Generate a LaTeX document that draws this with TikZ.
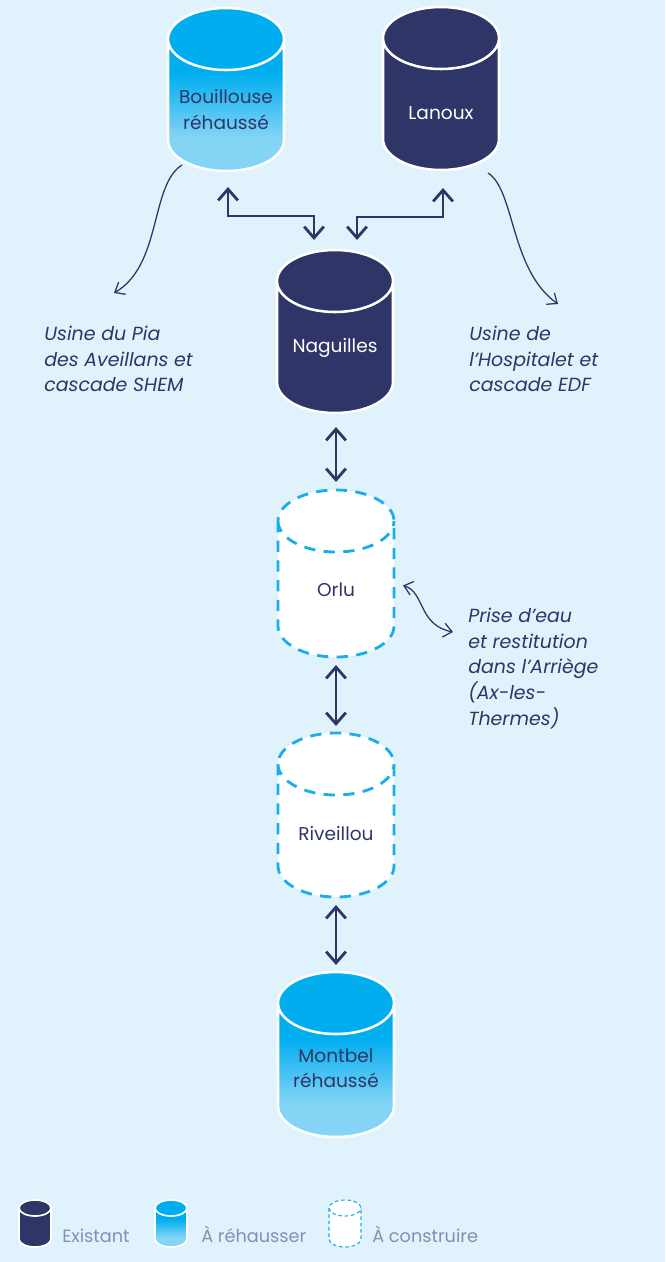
\documentclass[tikz,border=0pt]{standalone}
\usepackage{fontspec}
\setmainfont{Poppins}
\usetikzlibrary{arrows.meta}

\definecolor{bg}{HTML}{E0F2FB}
\definecolor{navy}{HTML}{2F3566}
\definecolor{tankcyan}{HTML}{00AEEF}
\definecolor{tanklight}{HTML}{84D4F6}
\definecolor{dashcyan}{HTML}{1AAEE8}
\definecolor{legendgray}{HTML}{8A8CB0}

\pgfdeclareverticalshading{tankfade}{100bp}{color(0bp)=(tanklight); color(35bp)=(tanklight); color(55bp)=(tankcyan); color(100bp)=(tankcyan)}

% one pixel of the drawing grid
\newcommand\pxu{0.025cm}

% #1 name, #2 style, #3 x, #4 top y, #5 x radius, #6 y radius, #7 body height
\newcommand\tank[7]{%
  \path[#2] (#3-#5,#4-#6) -- ++(0,-#7)
      arc[start angle=180,end angle=360,x radius=#5,y radius=#6] -- ++(0,#7)
      arc[start angle=0,end angle=180,x radius=#5,y radius=#6] -- cycle
    (#3-#5,#4-#6) arc[start angle=180,end angle=360,x radius=#5,y radius=#6];
  \node[tankbox, minimum width=2*#5*\pxu, minimum height=(2*#6+#7)*\pxu]
    (#1) at (#3,#4-#6-#7/2) {};
}

\tikzset{
  existing/.style={fill=navy, draw=white, line width=1.8pt},
  raised/.style={shade, shading=tankfade, draw=white, line width=1.8pt},
  planned/.style={fill=white, draw=dashcyan, line width=2pt, dash pattern=on 8pt off 6pt},
  tankbox/.style={inner sep=0pt, outer sep=0pt},
  tanklabel/.style={align=center, inner sep=0pt, font=\fontsize{13.2}{18}\selectfont},
  flow/.style={draw=navy, line width=2pt, >={Straight Barb[length=8pt,width=14pt]}},
  hint/.style={draw=navy, line width=0.9pt, >={Straight Barb[length=6pt,width=10pt]}},
  note/.style={align=left, anchor=north west, inner sep=0pt, font=\fontsize{13.5}{18.2}\selectfont\itshape},
  legend/.style={anchor=base west, inner sep=0pt, text=legendgray}
}

\begin{document}
\begin{tikzpicture}[x=0.025cm, y=0.025cm, text=navy,
  font=\fontsize{12.6}{18}\selectfont]
\fill[bg] (0,0) rectangle (665,-1262);
\useasboundingbox (0,0) rectangle (665,-1262);

% reservoirs
\tank{bou}{raised}{226}{-8}{58}{31}{101}
\tank{lan}{existing}{441}{-7}{58}{31}{101}
\tank{nag}{existing}{335}{-250}{58}{31}{101}
\tank{orl}{planned}{336}{-490}{58}{31}{105}
\tank{riv}{planned}{336}{-733}{58}{31}{102}
\tank{mon}{raised}{336}{-972}{58}{31}{103}

\node[tanklabel] (bou text) at ([yshift=-20*\pxu]bou.center) {Bouillouse\\réhaussé};
\node[tanklabel, text=white] (lan text) at ([yshift=-25*\pxu]lan.center) {Lanoux};
\node[tanklabel, text=white] (nag text) at ([yshift=-16*\pxu]nag.center) {Naguilles};
\node[tanklabel] (orl text) at ([yshift=-16*\pxu]orl.center) {Orlu};
\node[tanklabel] (riv text) at ([yshift=-19*\pxu]riv.center) {Riveillou};
\node[tanklabel] (mon text) at ([yshift=-14*\pxu]mon.center) {Montbel\\réhaussé};

% water transfers
\draw[flow,<->] ([xshift=2*\pxu,yshift=-16*\pxu]bou.south) -- ++(0,-29)
  -| ([xshift=-21*\pxu,yshift=10*\pxu]nag.north);
\draw[flow,<->] ([xshift=2*\pxu,yshift=-18*\pxu]lan.south) -- ++(0,-29)
  -| ([xshift=22*\pxu,yshift=10*\pxu]nag.north);
\draw[flow,<->,shorten <=14*\pxu,shorten >=8*\pxu] ([xshift=1*\pxu]nag.south) -- (orl.north);
\draw[flow,<->,shorten <=8*\pxu,shorten >=7*\pxu] (orl.south) -- (riv.north);
\draw[flow,<->,shorten <=8*\pxu,shorten >=7*\pxu] (riv.south) -- (mon.north);

% outlets
\node[note] (pia) at (44,-326) {Usine du Pia\\des Aveillans et\\cascade SHEM};
\node[note] (hospitalet) at (469,-326) {Usine de\\l’Hospitalet et\\cascade EDF};
\node[note] (ariege) at (468,-608) {Prise d’eau\\et restitution\\dans l’Arriège\\(Ax-les-\\Thermes)};

\draw[hint,->] ([xshift=-44*\pxu,yshift=6*\pxu]bou.south) .. controls (150,-185) and (162,-265) .. ([xshift=70*\pxu,yshift=33*\pxu]pia.north west);
\draw[hint,->] ([xshift=47*\pxu,yshift=-3*\pxu]lan.south) .. controls (515,-190) and (510,-270) .. ([xshift=89*\pxu,yshift=22*\pxu]hospitalet.north west);
\draw[hint,<->] ([xshift=9*\pxu,yshift=-12*\pxu]orl.east) .. controls (425,-592) and (418,-625) .. ([xshift=-15*\pxu,yshift=-24*\pxu]ariege.north west);

% legend
\tank{leg1}{existing, line width=1.2pt}{35}{-1200}{16}{8}{31}
\tank{leg2}{raised, line width=1.2pt}{171}{-1200}{16}{8}{31}
\tank{leg3}{planned, line width=0.8pt, dash pattern=on 2.5pt off 2pt}{345}{-1200}{16}{8}{31}
\node[legend] (leg1 text) at (62,-1242) {Existant};
\node[legend] (leg2 text) at (201,-1242) {À réhausser};
\node[legend] (leg3 text) at (372,-1242) {À construire};
\end{tikzpicture}
\end{document}
